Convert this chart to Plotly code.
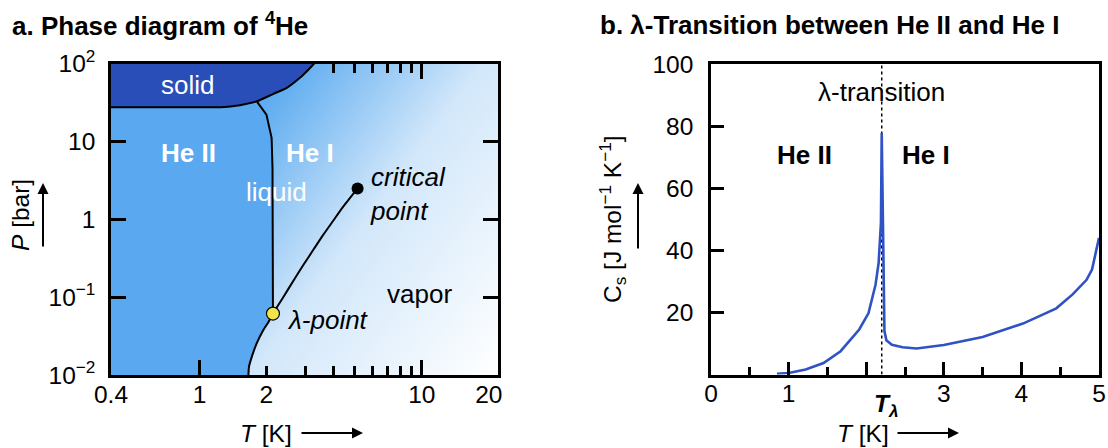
import base64
import math
import plotly.graph_objects as go

# ---------------- data ----------------
# panel a: phase diagram of 4He  (T in K, P in bar)
melt_T = [0.4, 1.0, 1.24, 1.38, 1.52, 1.81, 2.15, 2.47, 2.83, 3.04, 3.28]
melt_P = [27.4, 27.4, 27.5, 28.1, 29.1, 32.7, 40.8, 48.7, 65.5, 79.6, 100]

lam_T = [1.81, 2.00, 2.11, 2.13, 2.14]
lam_P = [32.7, 22.1, 11.1, 4.56, 0.0615]

vap_T = [1.66, 1.67, 1.72, 1.81, 1.94, 2.04, 2.14, 2.38, 2.64, 2.93, 3.25, 3.60, 4.00, 4.43, 5.14]
vap_P = [0.01, 0.0128, 0.0172, 0.0256, 0.038, 0.0476, 0.0615, 0.0998, 0.161, 0.258,
         0.405, 0.63, 0.964, 1.45, 2.49]

lambda_point = ([2.14], [0.0615])
critical_point = ([5.14], [2.49])

a_xtick_vals = [0.4, 1, 2, 10, 20]
a_xtick_text = ["0.4", "1", "2", "10", "20"]
a_ytick_vals = [0.01, 0.1, 1, 10, 100]
a_ytick_text = ["10<sup>−2</sup>", "10<sup>−1</sup>", "1", "10", "10<sup>2</sup>"]

# panel b: heat capacity across the lambda transition
cs_T = [0.85, 1.0, 1.22, 1.45, 1.67, 1.91, 2.03, 2.12, 2.16, 2.19, 2.2, 2.225, 2.235,
        2.26, 2.33, 2.47, 2.65, 3.0, 3.5, 4.02, 4.45, 4.66, 4.84, 4.91, 5.0]
cs_C = [0.2, 0.5, 1.6, 3.7, 7.5, 14.5, 19.8, 28.9, 35.9, 48.8, 77.8, 40, 14,
        11, 9.6, 8.8, 8.4, 9.5, 12.1, 16.4, 21.3, 25.8, 30.5, 33.8, 44]
T_lambda = 2.2
b_xtick_vals = [0, 1, 3, 4, 5]
b_ytick_vals = [20, 40, 60, 80, 100]

# ---------------- styling ----------------
W, H = 1108, 448
FONT = "Liberation Sans, Arial, Helvetica, sans-serif"
FS_TICK = 24.5
FS_LAB = 26
SOLID = "#2a4eb8"
HEII = "#5aa8f0"
CURVE = "#2f52c4"

# plot boxes in pixels
aL, aR, aT, aB = 111, 498, 63.5, 375
bL, bR, bT, bB = 711, 1099, 64, 374.5


def px(x):
    return x / W


def py(y):
    return 1 - y / H


fig = go.Figure()

# solid region
fig.add_trace(go.Scatter(
    x=melt_T + [melt_T[0]], y=melt_P + [100], fill="toself", fillcolor=SOLID,
    mode="lines", line=dict(width=0, shape="spline", smoothing=0.6),
    hoverinfo="skip", showlegend=False, xaxis="x", yaxis="y"))

# He II region
j = melt_T.index(lam_T[0])
k = vap_T.index(lam_T[-1])
heii_T = [0.4] + melt_T[:j + 1] + lam_T[1:] + vap_T[:k][::-1] + [0.4]
heii_P = [0.01] + melt_P[:j + 1] + lam_P[1:] + vap_P[:k][::-1] + [0.01]
fig.add_trace(go.Scatter(
    x=heii_T, y=heii_P, fill="toself", fillcolor=HEII,
    mode="lines", line=dict(width=0), hoverinfo="skip", showlegend=False,
    xaxis="x", yaxis="y"))

# boundary lines
for xs, ys, shp in [(melt_T, melt_P, "spline"), (lam_T, lam_P, "linear"),
                    (vap_T, vap_P, "spline")]:
    fig.add_trace(go.Scatter(x=xs, y=ys, mode="lines",
                             line=dict(color="black", width=2, shape=shp,
                                       smoothing=0.6),
                             hoverinfo="skip", showlegend=False,
                             xaxis="x", yaxis="y"))

fig.add_trace(go.Scatter(x=critical_point[0], y=critical_point[1], mode="markers",
                         marker=dict(color="black", size=12),
                         showlegend=False, xaxis="x", yaxis="y"))
fig.add_trace(go.Scatter(x=lambda_point[0], y=lambda_point[1], mode="markers",
                         marker=dict(color="#f2e34c", size=13,
                                     line=dict(color="black", width=1.2)),
                         showlegend=False, xaxis="x", yaxis="y"))

# invisible carriers so that the overlaid label / tick axes are drawn
for xa in ["x3", "x4"]:
    fig.add_trace(go.Scatter(x=a_xtick_vals, y=a_ytick_vals, mode="markers",
                             marker=dict(opacity=0), hoverinfo="skip",
                             showlegend=False, xaxis=xa, yaxis="y"))
fig.add_trace(go.Scatter(x=b_xtick_vals, y=b_ytick_vals, mode="markers",
                         marker=dict(opacity=0), hoverinfo="skip",
                         showlegend=False, xaxis="x5", yaxis="y2"))

# panel b
fig.add_trace(go.Scatter(x=[T_lambda, T_lambda], y=[0, 100], mode="lines",
                         line=dict(color="black", width=1.5, dash="dot"),
                         showlegend=False, xaxis="x2", yaxis="y2"))
fig.add_trace(go.Scatter(x=cs_T, y=cs_C, mode="lines",
                         line=dict(color=CURVE, width=2.6),
                         showlegend=False, xaxis="x2", yaxis="y2"))

# background gradient for He I / vapor area of panel a
gw, gh = aR - aL, aB - aT
svg = (f"<svg xmlns='http://www.w3.org/2000/svg' width='{gw}' height='{gh}' "
       f"viewBox='0 0 {gw} {gh}' preserveAspectRatio='none'>"
       "<defs><linearGradient id='g' gradientUnits='userSpaceOnUse' "
       "x1='0' y1='0' x2='397' y2='298'>"
       "<stop offset='0.3' stop-color='#5fadf0'/>"
       "<stop offset='0.6' stop-color='#d2e7fa'/>"
       "<stop offset='1' stop-color='#ffffff'/>"
       "</linearGradient></defs>"
       f"<rect x='0' y='0' width='{gw}' height='{gh}' fill='url(#g)'/></svg>")
src = "data:image/svg+xml;base64," + base64.b64encode(svg.encode()).decode()
fig.add_layout_image(source=src, xref="paper", yref="paper",
                     x=px(aL), y=py(aT), sizex=(aR - aL) / W, sizey=(aB - aT) / H,
                     xanchor="left", yanchor="top", sizing="stretch", layer="below")

tickfont = dict(family=FONT, size=FS_TICK, color="black")
dom_ax = [px(aL), px(aR)]
dom_ay = [py(aB), py(aT)]
dom_bx = [px(bL), px(bR)]
dom_by = [py(bB), py(bT)]
xr_a = [math.log10(0.4), math.log10(22)]

common = dict(showgrid=False, zeroline=False, tickcolor="black", tickwidth=2.5,
              automargin=False, fixedrange=True)

fig.update_layout(
    template="none",
    width=W, height=H, autosize=False,
    margin=dict(l=0, r=0, t=0, b=0, pad=0, autoexpand=False),
    paper_bgcolor="white", plot_bgcolor="rgba(0,0,0,0)",
    font=dict(family=FONT, size=FS_LAB, color="black"),
    showlegend=False, hovermode=False,
    # ---- panel a axes ----
    xaxis=dict(type="log", range=xr_a, domain=dom_ax, anchor="y",
               showline=True, linecolor="black", linewidth=2.5, mirror=True,
               ticks="inside", tickmode="array", tickvals=[1, 10], ticklen=15,
               showticklabels=False,
               minor=dict(ticks="inside", tickmode="array",
                          tickvals=[2, 3, 4, 5, 6, 7, 8, 9], ticklen=9,
                          tickwidth=2.5, tickcolor="black", showgrid=False),
               **common),
    xaxis3=dict(type="log", range=xr_a, overlaying="x", anchor="y", side="bottom",
                showline=False, ticks="", tickmode="array",
                tickvals=a_xtick_vals, ticktext=a_xtick_text,
                tickfont=tickfont, ticklabelstandoff=2, **common),
    xaxis4=dict(type="log", range=xr_a, overlaying="x", anchor="y", side="top",
                showline=False, ticks="inside", tickmode="array", tickvals=[10],
                ticklen=15, showticklabels=False,
                minor=dict(ticks="inside", tickmode="array",
                           tickvals=[4, 5, 6, 7, 8, 9], ticklen=9,
                           tickwidth=2.5, tickcolor="black", showgrid=False),
                **common),
    yaxis=dict(type="log", range=[-2, 2], domain=dom_ay, anchor="x",
               showline=True, linecolor="black", linewidth=2.5, mirror="ticks",
               ticks="inside", tickmode="array", tickvals=a_ytick_vals,
               ticktext=a_ytick_text, ticklen=15, tickfont=tickfont,
               ticklabelstandoff=8, **common),
    # ---- panel b axes ----
    xaxis2=dict(range=[0, 5], domain=dom_bx, anchor="y2",
                showline=True, linecolor="black", linewidth=2.5, mirror=True,
                ticks="inside", tickmode="array", tickvals=[1, 2, 3, 4], ticklen=13,
                showticklabels=False,
                minor=dict(ticks="inside", tickmode="array",
                           tickvals=[0.5, 1.5, 2.5, 3.5, 4.5], ticklen=8,
                           tickwidth=2.5, tickcolor="black", showgrid=False),
                **common),
    xaxis5=dict(range=[0, 5], overlaying="x2", anchor="y2", side="bottom",
                showline=False, ticks="", tickmode="array",
                tickvals=b_xtick_vals, ticktext=[str(v) for v in b_xtick_vals],
                tickfont=tickfont, ticklabelstandoff=2, **common),
    yaxis2=dict(range=[0, 100], domain=dom_by, anchor="x2",
                showline=True, linecolor="black", linewidth=2.5, mirror=True,
                ticks="inside", tickmode="array", tickvals=b_ytick_vals,
                ticklen=13, tickfont=tickfont, ticklabelstandoff=10, **common),
)

ann = []


def text(x, y, s, xref="paper", yref="paper", xanchor="center", color="black",
         size=FS_LAB, angle=0, xshift=0, align="center"):
    ann.append(dict(x=x, y=y, xref=xref, yref=yref, text=s, showarrow=False,
                    xanchor=xanchor, yanchor="middle", textangle=angle,
                    xshift=xshift, align=align,
                    font=dict(family=FONT, size=size, color=color)))


def arrow(x_tip, y_tip, dx, dy):
    ann.append(dict(x=px(x_tip), y=py(y_tip), xref="paper", yref="paper", text="",
                    showarrow=True, ax=dx, ay=dy, axref="pixel", ayref="pixel",
                    arrowhead=2, arrowsize=1.1, arrowwidth=2, arrowcolor="black"))


# titles
text(px(10), py(25), "<b>a. Phase diagram of <sup>4</sup>He</b>", xanchor="left")
text(px(598), py(25), "<b>b. λ-Transition between He II and He I</b>", xanchor="left")

# panel a labels (data coordinates, log axes use log10 values)
L = math.log10
text(L(0.88), L(53.7), "solid", "x", "y", color="white")
text(L(0.89), L(7.1), "<b>He II</b>", "x", "y", color="white")
text(L(3.14), L(7.0), "<b>He I</b>", "x", "y", color="white")
text(L(2.22), L(2.26), "liquid", "x", "y", color="white")
text(L(5.74), L(2.13), "<i>critical<br>point</i>", "x", "y", xanchor="left",
     align="left")
text(L(9.73), L(0.111), "vapor", "x", "y")
text(L(2.42), L(0.0506), "<i>λ-point</i>", "x", "y", xanchor="left")

# panel b labels
text(T_lambda, 91, "λ-transition", "x2", "y2")
text(1.2, 70.7, "<b>He II</b>", "x2", "y2")
text(2.77, 70.7, "<b>He I</b>", "x2", "y2")
text(T_lambda, py(405), "<b><i>T<sub>λ</sub></i></b>", "x2", "paper",
     size=FS_TICK, xshift=5)

# axis titles
text(px(266), py(433), "<i>T</i> [K]", size=FS_TICK)
arrow(363, 433, -63, 0)
text(px(863), py(433), "<i>T</i> [K]", size=FS_TICK)
arrow(959, 433, -63, 0)
text(px(20), py(215), "<i>P</i> [bar]", angle=-90, size=FS_TICK)
arrow(43, 183, 0, 65)
text(px(612), py(219), "C<sub>s</sub> [J mol<sup>−1</sup> K<sup>−1</sup>]",
     angle=-90, size=FS_TICK)
arrow(638, 183, 0, 67)

fig.update_layout(annotations=ann)
fig.write_html("out.html")
